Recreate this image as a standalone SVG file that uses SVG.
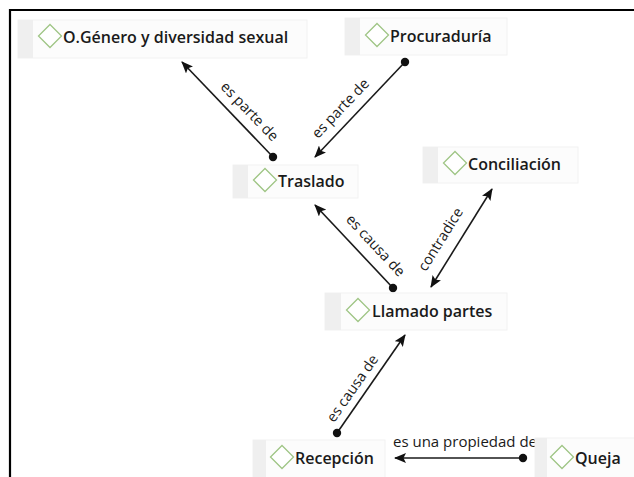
<svg xmlns="http://www.w3.org/2000/svg" width="634" height="477" viewBox="0 0 634 477">
<defs>
<marker id="arr" markerUnits="userSpaceOnUse" markerWidth="12" markerHeight="10" refX="11" refY="5" orient="auto-start-reverse" viewBox="0 0 12 10">
<path d="M0,0 L12,5 L0,10 L2.5,5 z" fill="#111"/>
</marker>
<marker id="dot" markerUnits="userSpaceOnUse" markerWidth="10" markerHeight="10" refX="5" refY="5" viewBox="0 0 10 10">
<circle cx="5" cy="5" r="4.2" fill="#111"/>
</marker>
<path id="dia" d="M0,-11.5 L11.5,0 L0,11.5 L-11.5,0 z"/>
</defs>
<style>
.box{fill:#fcfcfc;stroke:#f2f2f2;stroke-width:1}
.strip{fill:#efefef}
.dm{fill:#ffffff;stroke:#9fc585;stroke-width:1.3}
.nt{font-family:"Open Sans","Liberation Sans",sans-serif;font-size:16px;font-weight:600;fill:#1a1a1a}
.lk{stroke:#1a1a1a;stroke-width:1.6;fill:none}
.lb{font-family:"Open Sans","Liberation Sans",sans-serif;font-size:14.5px;font-weight:500;fill:#1a1a1a;text-anchor:middle;dominant-baseline:central}
.frame{stroke:#000;stroke-width:2.2;fill:none}
</style>
<rect width="634" height="477" fill="#ffffff"/>
<path class="frame" d="M10,477 L10,10 L634,10"/>

<g id="connectors">
<line class="lk" x1="273" y1="157" x2="182" y2="62" marker-start="url(#dot)" marker-end="url(#arr)"/>
<text class="lb" transform="translate(250,111) rotate(46)">es parte de</text>
<line class="lk" x1="405" y1="62" x2="315" y2="157" marker-start="url(#dot)" marker-end="url(#arr)"/>
<text class="lb" transform="translate(340,108) rotate(-46.5)">es parte de</text>
<line class="lk" x1="393" y1="288" x2="315" y2="205" marker-start="url(#dot)" marker-end="url(#arr)"/>
<text class="lb" transform="translate(376,245) rotate(47)">es causa de</text>
<line class="lk" x1="431" y1="287" x2="492" y2="189" marker-start="url(#arr)" marker-end="url(#arr)"/>
<text class="lb" transform="translate(440,239) rotate(-58)">contradice</text>
<line class="lk" x1="337" y1="433" x2="405" y2="335" marker-start="url(#dot)" marker-end="url(#arr)"/>
<text class="lb" transform="translate(352,388) rotate(-55)">es causa de</text>
<line class="lk" x1="523" y1="458" x2="395" y2="458" marker-start="url(#dot)" marker-end="url(#arr)"/>
<text class="lb" x="393" y="441" style="text-anchor:start;font-size:15px">es una propiedad de</text>
</g>

<g id="node-genero">
<rect class="box" x="18" y="20" width="289" height="38"/>
<rect class="strip" x="18" y="20" width="15" height="38"/>
<use href="#dia" class="dm" x="50" y="36"/>
<text class="nt" x="63" y="43">O.Género y diversidad sexual</text>
</g>
<g id="node-procuraduria">
<rect class="box" x="345" y="18" width="162" height="37"/>
<rect class="strip" x="345" y="18" width="15" height="37"/>
<use href="#dia" class="dm" x="377" y="35"/>
<text class="nt" x="390" y="42">Procuraduría</text>
</g>
<g id="node-traslado">
<rect class="box" x="233" y="165" width="125" height="33"/>
<rect class="strip" x="233" y="165" width="15" height="33"/>
<use href="#dia" class="dm" x="265" y="180"/>
<text class="nt" x="278" y="187">Traslado</text>
</g>
<g id="node-conciliacion">
<rect class="box" x="423" y="147" width="155" height="36"/>
<rect class="strip" x="423" y="147" width="15" height="36"/>
<use href="#dia" class="dm" x="455" y="163"/>
<text class="nt" x="468" y="170">Conciliación</text>
</g>
<g id="node-llamado">
<rect class="box" x="325" y="293" width="182" height="37"/>
<rect class="strip" x="325" y="293" width="16" height="37"/>
<use href="#dia" class="dm" x="358" y="310"/>
<text class="nt" x="372" y="317">Llamado partes</text>
</g>
<g id="node-recepcion">
<rect class="box" x="253" y="440" width="132" height="40"/>
<rect class="strip" x="253" y="440" width="13" height="40"/>
<use href="#dia" class="dm" x="282" y="457"/>
<text class="nt" x="295" y="464">Recepción</text>
</g>
<g id="node-queja">
<rect class="box" x="535" y="438" width="105" height="42"/>
<rect class="strip" x="535" y="438" width="12" height="42"/>
<use href="#dia" class="dm" x="562" y="457"/>
<text class="nt" x="575" y="464">Queja</text>
</g>
</svg>
